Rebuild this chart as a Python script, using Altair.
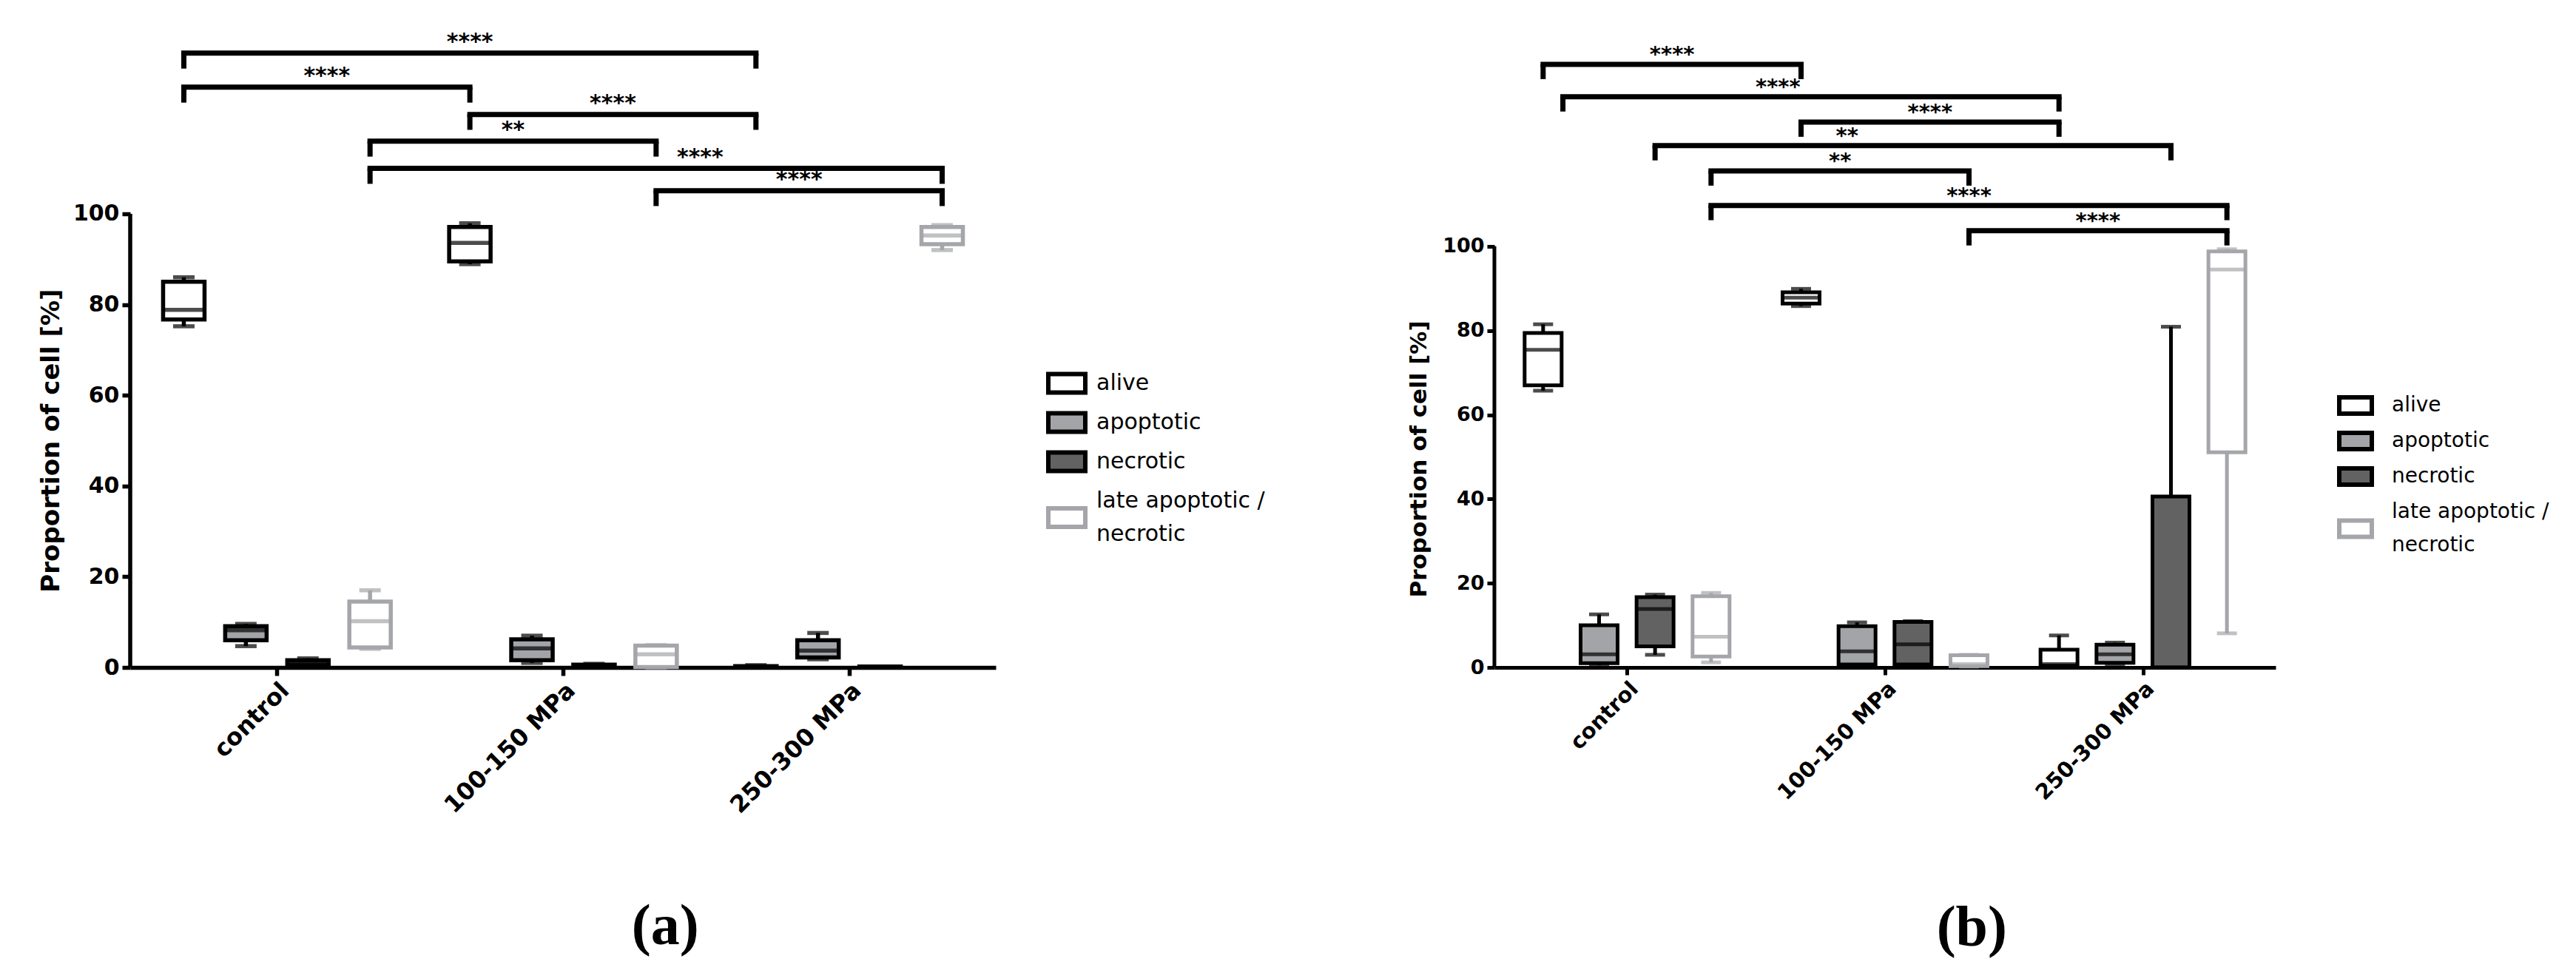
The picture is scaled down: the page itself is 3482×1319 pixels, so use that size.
import json
import altair as alt
import pandas as pd

FONT = "DejaVu Sans"
LEGEND_LINE_HEIGHT = 45

categories = ["control", "100-150 MPa", "250-300 MPa"]
series_names = ["alive", "apoptotic", "necrotic", "late apoptotic / necrotic"]
fill_colors = ["#ffffff", "#a3a4a8", "#626262", "#ffffff"]
line_colors = ["#000000", "#000000", "#000000", "#a5a6aa"]
y_ticks = [0, 20, 40, 60, 80, 100]

# box statistics per category (control, 100-150 MPa, 250-300 MPa): [min, q1, median, q3, max]
a_alive = [[75.2, 76.7, 78.8, 85.0, 86.0], [88.9, 89.5, 93.6, 97.1, 97.9], [0.0, 0.1, 0.2, 0.3, 0.5]]
a_apoptotic = [[4.7, 6.0, 8.2, 9.1, 9.6], [1.0, 1.6, 4.2, 6.2, 7.0], [1.8, 2.2, 3.7, 6.0, 7.6]]
a_necrotic = [[0.3, 0.5, 1.0, 1.6, 2.0], [0.0, 0.1, 0.3, 0.6, 0.8], [0.0, 0.05, 0.1, 0.2, 0.2]]
a_late = [[4.1, 4.4, 10.2, 14.5, 17.0], [0.0, 0.1, 2.9, 4.8, 4.9], [92.0, 93.3, 95.2, 97.1, 97.5]]

b_alive = [[65.7, 67.0, 75.4, 79.4, 81.5], [85.8, 86.4, 87.8, 89.1, 89.9], [0.1, 0.4, 0.8, 4.2, 7.6]]
b_apoptotic = [[0.5, 1.0, 3.1, 10.0, 12.6], [0.3, 0.7, 3.8, 9.8, 10.7], [0.7, 1.1, 3.1, 5.4, 5.9]]
b_necrotic = [[3.0, 5.0, 13.9, 16.7, 17.3], [0.3, 0.7, 5.5, 10.8, 11.0], [0.0, 0.0, 0.0, 40.6, 80.9]]
b_late = [[1.2, 2.6, 7.3, 16.9, 17.7], [0.2, 0.3, 0.8, 2.9, 3.0], [8.1, 51.1, 94.5, 98.8, 99.3]]

# significance brackets: from (category, series) to (category, series), height, label
a_br_from = [("control", "alive"), ("control", "alive"), ("100-150 MPa", "alive"),
             ("control", "late apoptotic / necrotic"), ("control", "late apoptotic / necrotic"),
             ("100-150 MPa", "late apoptotic / necrotic")]
a_br_to = [("250-300 MPa", "alive"), ("100-150 MPa", "alive"), ("250-300 MPa", "alive"),
           ("100-150 MPa", "late apoptotic / necrotic"), ("250-300 MPa", "late apoptotic / necrotic"),
           ("250-300 MPa", "late apoptotic / necrotic")]
a_br_level = [135.4, 127.9, 121.9, 116.0, 110.0, 105.1]
a_br_label = ["****", "****", "****", "**", "****", "****"]

b_br_from = [("control", "alive"), ("control", "alive"), ("100-150 MPa", "alive"),
             ("control", "necrotic"), ("control", "late apoptotic / necrotic"),
             ("control", "late apoptotic / necrotic"), ("100-150 MPa", "late apoptotic / necrotic")]
b_br_to = [("100-150 MPa", "alive"), ("250-300 MPa", "alive"), ("250-300 MPa", "alive"),
           ("250-300 MPa", "necrotic"), ("100-150 MPa", "late apoptotic / necrotic"),
           ("250-300 MPa", "late apoptotic / necrotic"), ("250-300 MPa", "late apoptotic / necrotic")]
b_br_level = [143.2, 135.5, 129.5, 123.9, 117.9, 109.7, 103.7]
b_br_label = ["****", "****", "****", "**", "**", "****", "****"]

CAT = {c: i for i, c in enumerate(categories)}
OFF = {s: (i - 1.5) * 0.217 for i, s in enumerate(series_names)}
LINE = dict(zip(series_names, line_colors))


def box_frame(stats):
    rows = []
    for s, per_cat in zip(series_names, stats):
        for c, (mn, q1, md, q3, mx) in zip(categories, per_cat):
            rows.append({"series": s, "pos": CAT[c] + OFF[s], "lo": mn, "q1": q1,
                         "med": md, "q3": q3, "hi": mx, "line": LINE[s]})
    return pd.DataFrame(rows)


def bracket_frame(frm, to, lvl, lab, st):
    # pixel nudges (style) converted to data units of the x scale
    px = st["w"] / 3.0
    rows = []
    for i, ((c1, s1), (c2, s2), l, t) in enumerate(zip(frm, to, lvl, lab)):
        x1 = CAT[c1] + OFF[s1] + st["start_nudge"].get(i, 0) / px
        x2 = CAT[c2] + OFF[s2]
        mid = (x1 + x2) / 2 + st["label_nudge"].get(i, 0) / px
        rows.append({"x1": x1, "x2": x2, "mid": mid, "lvl": l,
                     "foot": l - st["drop"], "label": t})
    return pd.DataFrame(rows)


def legend_symbol_expr(sym):
    # rectangle swatch; for the two-line entry it is moved down by half a line
    k = (LEGEND_LINE_HEIGHT / 2.0) / (sym / 2.0)
    plain = "M-1,-0.5H1V0.5H-1Z"
    shifted = "M-1,%.3fH1V%.3fH-1Z" % (-0.5 + k, 0.5 + k)
    return "indexof(datum.value, ' / ') >= 0 ? '%s' : '%s'" % (shifted, plain)


def panel(stats, br, ymax, st, caption):
    boxes = box_frame(stats)
    sw = st["sw"]
    xs = alt.Scale(domain=[-0.5, 2.5], nice=False, zero=False)
    ys = alt.Scale(domain=[0, ymax], nice=False, zero=False)
    x_axis = alt.Axis(values=[0, 1, 2], labelExpr=json.dumps(categories) + "[datum.value]",
                      labelAngle=-45, labelFont=FONT, labelFontWeight="bold",
                      labelFontSize=st["xlab"], labelColor="black", labelPadding=st["xpad"],
                      labelOverlap=False, labelLimit=0, tickSize=st["tick"], tickWidth=sw,
                      tickColor="black", domainWidth=sw, domainColor="black", grid=False,
                      title=None)
    y_axis = alt.Axis(values=y_ticks, title="Proportion of cell [%]", titleFont=FONT,
                      titleFontWeight="bold", titleFontSize=st["ytitle"], titleColor="black",
                      titlePadding=st["tpad"], titleY=st["titleY"], labelFont=FONT,
                      labelFontWeight="bold", labelFontSize=st["ylab"], labelColor="black",
                      labelPadding=4, tickSize=st["tick"], tickWidth=sw, tickColor="black",
                      domain=False, grid=False)
    leg = alt.Legend(title=None, orient="none", legendX=st["legX"], legendY=st["legY"],
                     symbolType={"expr": legend_symbol_expr(st["sym"])},
                     symbolSize=st["sym"] ** 2,
                     symbolStrokeWidth=st["symsw"], labelFont=FONT, labelFontSize=st["leg"],
                     labelColor="black", labelOffset=st["labOff"], rowPadding=st["rowPad"],
                     labelLimit=0, padding=0,
                     labelExpr="indexof(datum.label, ' / ') >= 0 ? [slice(datum.label, 0, indexof(datum.label, ' / ') + 2), slice(datum.label, indexof(datum.label, ' / ') + 3)] : datum.label")
    fill_scale = alt.Scale(domain=series_names, range=fill_colors)
    stroke_scale = alt.Scale(domain=series_names, range=line_colors)

    def X(f):
        return alt.X(f, type="quantitative", scale=xs, axis=x_axis)

    def Y(f):
        return alt.Y(f, type="quantitative", scale=ys, axis=y_axis)

    base = alt.Chart(boxes)
    whisk = base.mark_rule(strokeWidth=sw).encode(
        x=X("pos"), y=Y("lo"), y2="hi:Q", color=alt.Color("line:N", scale=None))
    cap_lo = base.mark_tick(orient="horizontal", size=st["cap"], thickness=sw).encode(
        x=X("pos"), y=Y("lo"), color=alt.Color("line:N", scale=None))
    cap_hi = base.mark_tick(orient="horizontal", size=st["cap"], thickness=sw).encode(
        x=X("pos"), y=Y("hi"), color=alt.Color("line:N", scale=None))
    box = base.mark_bar(size=st["box"], strokeWidth=sw).encode(
        x=X("pos"), y=Y("q1"), y2="q3:Q",
        fill=alt.Fill("series:N", scale=fill_scale, legend=leg),
        stroke=alt.Stroke("series:N", scale=stroke_scale, legend=leg))
    med = base.mark_tick(orient="horizontal", size=st["box"], thickness=sw).encode(
        x=X("pos"), y=Y("med"), color=alt.Color("line:N", scale=None))
    yline = alt.Chart(pd.DataFrame({"lo": [min(y_ticks)], "hi": [max(y_ticks)]})).mark_rule(
        strokeWidth=sw, color="black").encode(x=alt.value(0), y=Y("lo"), y2="hi:Q")

    bb = alt.Chart(br)
    bar_h = bb.mark_rule(strokeWidth=st["bsw"], strokeCap="square", color="black").encode(
        x=X("x1"), x2="x2:Q", y=Y("lvl"))
    leg_l = bb.mark_rule(strokeWidth=st["bsw"], color="black").encode(
        x=X("x1"), y=Y("lvl"), y2="foot:Q")
    leg_r = bb.mark_rule(strokeWidth=st["bsw"], color="black").encode(
        x=X("x2"), y=Y("lvl"), y2="foot:Q")
    stars = bb.mark_text(font=FONT, fontWeight="bold", fontSize=st["star"], dy=st["stardy"],
                         baseline="alphabetic", color="black").encode(
        x=X("mid"), y=Y("lvl"), text="label:N")

    return alt.layer(whisk, cap_lo, cap_hi, box, med, yline, bar_h, leg_l, leg_r, stars).properties(
        width=st["w"], height=st["h"],
        title=alt.TitleParams(text=caption, orient="bottom", font="Liberation Serif",
                              fontSize=78, fontWeight="bold", color="black",
                              offset=st["capOff"], dx=st["capDx"], anchor="middle",
                              frame="bounds"))


style_a = dict(w=1170, h=889, sw=5.5, tick=11, box=56, cap=29, xlab=32, xpad=4, ylab=30,
               ytitle=34, tpad=12, titleY=582, legX=1238, legY=477, sym=50, symsw=6, leg=30,
               labOff=12, rowPad=-8, bsw=7, star=30, stardy=-6, capOff=110, capDx=18,
               drop=3.4, start_nudge={}, label_nudge={4: 60})
style_b = dict(w=1056, h=889, sw=5, tick=10, box=50, cap=27, xlab=29, xpad=4, ylab=27,
               ytitle=31, tpad=15, titleY=607, legX=1139, legY=510, sym=44, symsw=6, leg=28,
               labOff=24, rowPad=0, bsw=7, star=29, stardy=-4, capOff=130, capDx=-9,
               drop=3.5, start_nudge={1: 27}, label_nudge={1: -45, 3: -90})

stats_a = [a_alive, a_apoptotic, a_necrotic, a_late]
stats_b = [b_alive, b_apoptotic, b_necrotic, b_late]

pa = panel(stats_a, bracket_frame(a_br_from, a_br_to, a_br_level, a_br_label, style_a), 145.0, style_a, "(a)")
pb = panel(stats_b, bracket_frame(b_br_from, b_br_to, b_br_level, b_br_label, style_b), 156.2, style_b, "(b)")

chart = alt.hconcat(pa, pb, spacing=192).resolve_scale(
    x="independent", y="independent", fill="independent", stroke="independent"
).resolve_legend(fill="independent", stroke="independent").configure(
    font=FONT, style={"guide-label": {"lineHeight": LEGEND_LINE_HEIGHT}}
).configure_view(stroke=None).properties(
    padding={"left": 44, "top": 5, "right": 5, "bottom": 5}, background="white"
)

chart.save("out.html", embed_options={"renderer": "svg", "actions": False})
